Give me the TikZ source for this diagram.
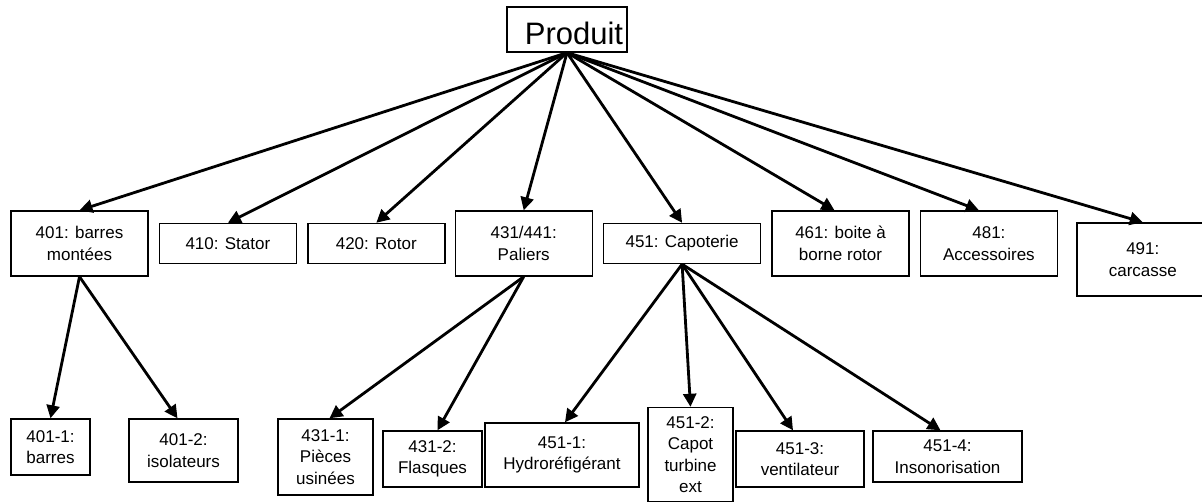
\documentclass[tikz,border=0pt]{standalone}
\usepackage{fontspec}
\setmainfont{Liberation Sans}
\usetikzlibrary{arrows.meta, positioning}

\begin{document}
\begin{tikzpicture}[x=1pt, y=-1pt,
  part/.style={draw, line width=1.4pt, align=center, inner sep=0pt, font=\fontsize{17pt}{21.5pt}\selectfont},
  tall/.style={part, minimum width=137pt, minimum height=65pt},
  short/.style={part, minimum width=137pt, minimum height=40pt},
  arrow/.style={-{Triangle[length=13pt, width=13pt]}, line width=2.8pt}
]
\useasboundingbox (0,0) rectangle (1202,502);

\node[part, minimum width=120pt, minimum height=45pt, text height=31pt, text depth=0pt,
      font=\fontsize{31pt}{36pt}\selectfont] (prod) at (567,29.5) {\hspace*{14pt}Produit};

% niveau 1
\node[tall] (p401) at (79.5,243.5) {401: barres\\montées};
\node[short, right=10pt of p401] (p410) {410: Stator};
\node[short, right=10pt of p410] (p420) {420: Rotor};
\node[tall, right=9pt of p420] (p431) {431/441:\\Paliers};
\node[short, minimum width=157pt, right=10pt of p431] (p451) {451: Capoterie};
\node[tall, right=10pt of p451] (p461) {461: boite à\\borne rotor};
\node[tall, right=10pt of p461] (p481) {481:\\Accessoires};
\node[part, minimum width=132pt, minimum height=73pt, right=18pt of p481, yshift=-16pt] (p491) {491:\\carcasse};

% niveau 2
\node[part, minimum width=79pt, minimum height=56pt] (p4011) at (50.5,447) {401-1:\\barres};
\node[part, minimum width=109pt, minimum height=63pt] (p4012) at (183.5,450.5) {401-2:\\isolateurs};
\node[part, minimum width=95pt, minimum height=76pt] (p4311) at (325.5,457) {431-1:\\Pièces\\usinées};
\node[part, minimum width=99pt, minimum height=56pt] (p4312) at (432.5,459) {431-2:\\Flasques};
\node[part, minimum width=154pt, minimum height=64pt] (p4511) at (562,455) {451-1:\\Hydroréfigérant};
\node[part, minimum width=85pt, minimum height=94pt] (p4512) at (690.5,454.5) {451-2:\\Capot\\turbine\\ext};
\node[part, minimum width=128pt, minimum height=56pt] (p4513) at (800,459) {451-3:\\ventilateur};
\node[part, minimum width=149pt, minimum height=51pt] (p4514) at (947.5,456.5) {451-4:\\Insonorisation};

\draw[arrow] (prod.south) -- (p401.north);
\draw[arrow] (prod.south) -- (p410.north);
\draw[arrow] (prod.south) -- (p420.north);
\draw[arrow] (prod.south) -- (p431.north);
\draw[arrow] (prod.south) -- (p451.north);
\draw[arrow] (prod.south) -- ([xshift=-6pt]p461.north);
\draw[arrow] (prod.south) -- ([xshift=-10pt]p481.north);
\draw[arrow] (prod.south) -- (p491.north);

\draw[arrow] (p401.south) -- (p4011.north);
\draw[arrow] (p401.south) -- ([xshift=-6pt]p4012.north);
\draw[arrow] (p431.south) -- ([xshift=4pt]p4311.north);
\draw[arrow] (p431.south) -- ([xshift=5pt]p4312.north);
\draw[arrow] (p451.south) -- ([xshift=3pt]p4511.north);
\draw[arrow] (p451.south) -- (p4512.north);
\draw[arrow] (p451.south) -- ([xshift=-7pt]p4513.north);
\draw[arrow] (p451.south) -- ([xshift=-7pt]p4514.north);
\end{tikzpicture}
\end{document}
